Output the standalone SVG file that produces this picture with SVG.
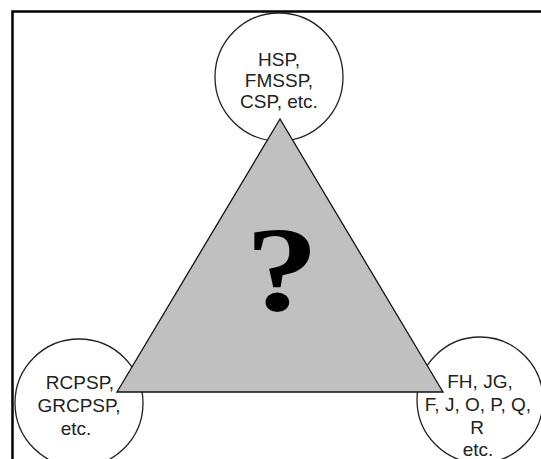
<svg xmlns="http://www.w3.org/2000/svg" width="541" height="459" viewBox="0 0 541 459">
<style>
.c{fill:#fff;stroke:#222;stroke-width:1.3}
.t{font-family:"Liberation Sans",Arial,sans-serif;font-size:19px;fill:#222;text-anchor:middle}
</style>
<rect width="541" height="459" fill="#fff"/>
<path d="M12.5 459 V11.5 H541" fill="none" stroke="#000" stroke-width="2.5"/>
<g id="top">
<circle class="c" cx="279" cy="77" r="64"/>
<text class="t" x="279" y="66">HSP,</text>
<text class="t" x="279" y="87">FMSSP,</text>
<text class="t" x="279" y="108">CSP, etc.</text>
</g>
<g id="left">
<circle class="c" cx="79" cy="403" r="64"/>
</g>
<g id="right">
<circle class="c" cx="480" cy="400" r="63"/>
</g>
<g id="triangle">
<polygon points="280,119 117,392 443,392" fill="#c0c0c0" stroke="#111" stroke-width="1.3"/>
<text transform="translate(282,310) scale(1.22,1)" font-family="Liberation Serif,serif" font-weight="bold" font-size="120" text-anchor="middle" fill="#000">?</text>
</g>
<g id="left-text">
<text class="t" x="80" y="389">RCPSP,</text>
<text class="t" x="79" y="412">GRCPSP,</text>
<text class="t" x="76" y="435">etc.</text>
</g>
<g id="right-text">
<text class="t" x="480" y="388">FH, JG,</text>
<text class="t" x="478" y="411">F, J, O, P, Q,</text>
<text class="t" x="477" y="434">R</text>
<text class="t" x="478" y="456">etc.</text>
</g>
</svg>
